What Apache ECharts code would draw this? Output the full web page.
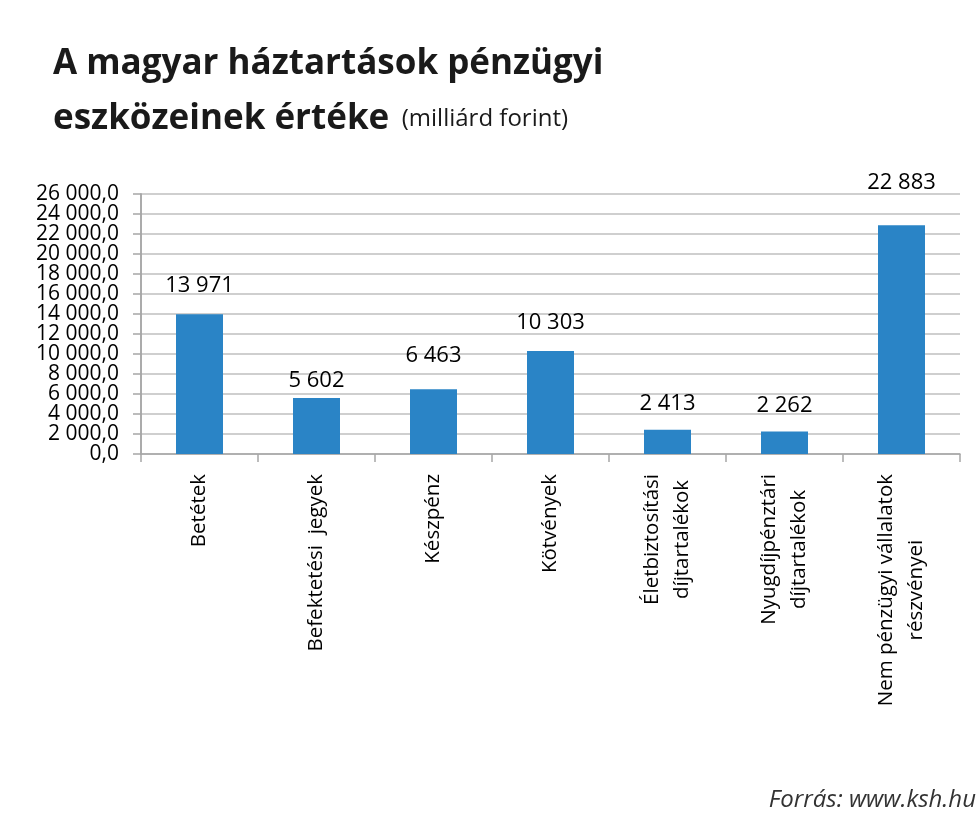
<!DOCTYPE html>
<html><head><meta charset="utf-8">
<script src="https://cdn.jsdelivr.net/npm/echarts@6/dist/echarts.min.js"></script>
<style>html,body{margin:0;padding:0;background:#fff}#c{width:980px;height:820px}</style>
</head><body><div id="c"></div>
<script>
const categories = ['Betétek','Befektetési  jegyek','Készpénz','Kötvények','Életbiztosítási\ndíjtartalékok','Nyugdíjpénztári\ndíjtartalékok','Nem pénzügyi vállalatok\nrészvényei'];
const values = [13971, 5602, 6463, 10303, 2413, 2262, 22883];
const labelGaps = [18, 6, 23, 17, 15, 15, 31];
const yMin = 0, yMax = 26000, yStep = 2000;

function fmtThousands(n){ return String(n).replace(/\B(?=(\d{3})+(?!\d))/g,' '); }
function yLabel(v){ return fmtThousands(v)+',0'; }

const axisLineStyle = {show:true, lineStyle:{color:'#a6a6a6', width:1.5}};
const axisTickStyle = {show:true, length:8, lineStyle:{color:'#a6a6a6', width:1.5}};
const yLabelBase = {margin:22, fontFamily:'Open Sans', fontSize:21, color:'#000', hideOverlap:false};

const chart = echarts.init(document.getElementById('c'));
chart.setOption({
  animation:false,
  title:{
    left:48, top:32,
    text:'{b|A magyar háztartások pénzügyi}\n{b|eszközeinek értéke}{n|  (milliárd forint)}',
    textStyle:{ rich:{
      b:{fontFamily:'Open Sans', fontWeight:'bold', fontSize:35, color:'#1a1a1a', lineHeight:55},
      n:{fontFamily:'Open Sans', fontWeight:'normal', fontSize:24, color:'#1a1a1a', lineHeight:55}
    }}
  },
  graphic:[{type:'text', right:4, bottom:8, style:{text:'Forrás: www.ksh.hu', font:'italic 24px "Open Sans"', fill:'#333'}}],
  grid:{left:141, right:20, top:194, bottom:366, containLabel:false},
  xAxis:{
    type:'category', data:categories,
    axisLine:axisLineStyle,
    axisTick:axisTickStyle,
    axisLabel:{
      rotate:90, margin:20, interval:0,
      formatter:function(v){ return v.split('\n').map(function(s){return '{c|'+s+'}';}).join('\n'); },
      rich:{c:{align:'center', fontFamily:'Open Sans', fontSize:20.5, color:'#000', lineHeight:30}}
    }
  },
  yAxis:[{
    type:'value', position:'left', min:yMin, max:yMax, interval:yStep,
    axisLine:axisLineStyle, axisTick:axisTickStyle,
    splitLine:{lineStyle:{color:'#bfbfbf', width:1.5}},
    axisLabel:Object.assign({}, yLabelBase, {showMinLabel:true, showMaxLabel:false,
      formatter:function(v){ return (v/yStep)%2===0 ? yLabel(v) : ''; }})
  },{
    type:'value', position:'left', offset:0, min:yMin, max:yMax, interval:yStep,
    axisLine:axisLineStyle, axisTick:axisTickStyle,
    splitLine:{show:false},
    axisLabel:Object.assign({}, yLabelBase, {showMinLabel:false, showMaxLabel:true,
      formatter:function(v){ return (v/yStep)%2===1 ? yLabel(v) : ''; }})
  }],
  series:[{
    type:'bar', barWidth:47, yAxisIndex:0,
    itemStyle:{color:'#2a84c6'},
    data:values.map(function(v,i){ return {value:v, label:{distance:labelGaps[i]}}; }),
    label:{show:true, position:'top', fontFamily:'Open Sans', fontSize:22, color:'#000',
      formatter:function(p){ return fmtThousands(p.value); }}
  }]
});
</script></body></html>
